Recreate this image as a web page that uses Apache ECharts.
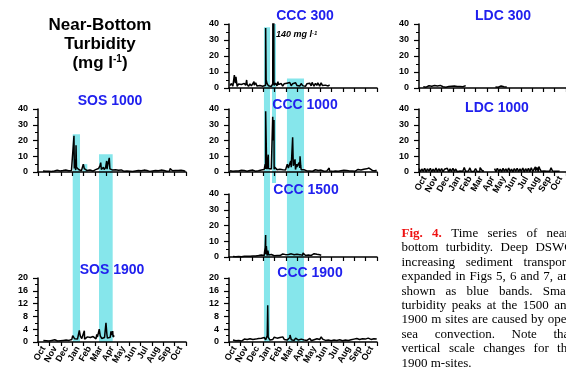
<!DOCTYPE html>
<html><head><meta charset="utf-8">
<script src="https://cdn.jsdelivr.net/npm/echarts@6/dist/echarts.min.js"></script>
<style>html,body{margin:0;padding:0;background:#fff}#c{width:566px;height:372px}</style>
</head><body><div id="c"></div>
<script>
// ---------------- DATA ----------------
const months = ['Oct','Nov','Dec','Jan','Feb','Mar','Apr','May','Jun','Jul','Aug','Sep','Oct'];
const STEP = 0.125; // months between samples of the base records

// SOS 1000
const sos1000Start = 0.44;
const sos1000Base = [0.6,0.9,0.4,1.1,0.5,0.8,0.3,1.0,0.6,0.4,1.2,0.5,0.7,0.3,0.9,0.6,1.3,0.4,0.8,0.5,1.0,
 1.5,2.2,1.2,2.5,1.6,1.1, 0.8,1.4,2.1,1.2,0.9, 0.7,1.3,1.8,0.6,1.1,1.5,0.9,
 2.2,3.0,1.6,2.6,1.5,2.8,1.8,3.1,2.0,2.4,1.2,
 0.9,1.4,0.6,1.1,0.5,1.3,0.8,0.4,1.0,0.6,1.2,0.5,0.9,0.3,1.1,0.7,0.4,1.0,0.6,0.8,0.3,1.2,0.5,0.9,0.6,0.4,1.1,0.7,0.5,1.0,0.3,0.8,0.6,1.2,0.4,0.9,0.7,0.5,1.1,0.6,1.4,0.8,0.5,1.0,0.4,0.9,0.6,1.1,0.5,0.8,0.4];
const sos1000Peaks = [[3.16,23],[3.2,8],[3.34,17],[3.38,3],[3.98,5],[5.45,4],[5.51,6],[5.56,5.5],[5.75,3],[6.03,7],[6.1,3.5],[6.26,9],[6.3,8.5],[11.6,2.2]];

// SOS 1900
const sos1900Start = 0.47;
const sos1900Base = [0.5,0.7,0.4,0.6,0.3,0.8,0.5,0.4,0.7,0.5,0.3,0.6,0.4,0.7,0.5,0.8,0.6,0.9,0.5,1.1,0.8,
 1.4,1.0,1.6,0.9,1.3,1.8,1.1,1.5,0.9,1.2,1.6,1.0,1.4,0.8,1.7,1.2,1.0,1.5,1.3,1.9,1.1,1.6,1.4,2.0,1.2,1.7,1.5,2.2,1.6,1.8];
const sos1900Peaks = [[3.05,2.0],[3.63,3.6],[4.07,3.5],[4.5,2.0],[5.16,2.4],[5.38,4.0],[5.97,6.0],[6.05,2.5],[6.41,3.3],[6.56,3.4],[6.7,2.0]];

// CCC 300
const ccc300Start = 0.09;
const ccc300Base = [1.5,2.8,1.2,2.0,3.0,1.0,2.5,1.4,2.2,1.1,2.9,1.6,2.3,1.0,2.6,1.3,2.1,1.8,3.2,1.2,
 2.4,1.5,2.7,1.1,2.0,1.7,2.9,1.4,2.3,1.0,2.5,1.6,3.1,1.3,2.2,1.8,2.8,1.2,2.6,1.5,
 3.0,1.9,3.4,1.4,2.7,2.0,3.3,1.6,2.5,1.2,2.8,1.5,2.2,1.0,2.6,1.7,3.0,1.3,2.4,1.1,
 2.9,1.6,2.3,1.2,3.2,1.5,2.7,1.8,2.1,1.3,1.9];
const ccc300Peaks = [[0.47,8],[0.55,3],[0.61,7],[1.55,5],[2.2,4],[3.22,37.5],[3.26,5],[3.89,140],[3.95,4],[4.3,4],[5.4,3.5],[5.9,4],[7.3,3.5],[7.8,3.2]];

// CCC 1000
const ccc1000Start = 0.09;
const ccc1000Base = [0.8,1.2,0.5,1.0,0.6,1.4,0.7,0.4,1.1,0.6,0.9,1.3,0.5,0.8,1.0,0.4,1.2,0.7,0.5,1.1,0.8,0.6,1.3,0.9,1.6,
 2.0,1.8,2.2,1.5,1.9,2.4,1.7,2.6,1.5,1.2,1.8,1.0,1.4,0.8,1.3,1.9,
 2.5,1.7,3.0,2.1,2.8,1.6,3.2,2.0,2.6,1.5,2.2,1.4,
 1.0,0.7,1.3,0.6,1.1,0.5,0.9,1.4,0.6,1.0,0.4,1.2,0.8,0.5,1.1,0.7,1.5,0.6,0.9,0.4,1.2,0.7,1.0,0.5,1.3,0.8,0.6,1.1,0.5,0.9,1.4,0.7,1.0,0.6,1.2,0.5,0.9,1.6,0.8,1.3,0.7,1.8,1.1,2.0,0.9,1.5,2.2,1.0,1.6,0.8,1.2];
const ccc1000Peaks = [[3.18,5],[3.22,38.5],[3.3,6],[3.45,11],[3.52,3],[3.84,35],[3.9,20],[3.95,33],[4.02,3],[5.12,5],[5.42,7],[5.5,3],[5.59,22],[5.65,4],[5.8,8],[5.95,5],[6.15,6],[6.24,10],[6.3,4],[8.8,2.5],[12.0,2.8],[12.3,2.5]];

// CCC 1500
const ccc1500Start = 0.35;
const ccc1500Base = [0.3,0.5,0.2,0.4,0.3,0.6,0.2,0.4,0.5,0.3,0.4,0.2,0.5,0.3,0.6,0.4,0.7,0.5,0.9,0.6,1.2,
 1.5,1.0,1.8,0.9,1.3,0.7,1.6,1.1,0.8,1.4,1.0,1.7,0.9,1.3,1.9,1.1,1.5,0.8,1.6,1.2,2.0,1.0,1.4,0.9,1.8,1.2,1.5,2.2,1.1,1.6,0.9,1.9,1.3,2.3,1.0,1.5,2.1,1.2,1.7,0.8,1.4,1.0];
const ccc1500Peaks = [[3.12,3],[3.18,6],[3.22,14],[3.28,7],[3.34,6],[3.42,4],[5.3,2.5],[6.5,2.6],[7.5,2.5]];

// CCC 1900
const ccc1900Start = 0.35;
const ccc1900Base = [0.6,0.9,0.4,0.8,0.5,1.0,0.3,0.7,0.9,0.5,0.8,0.4,1.0,0.6,0.8,0.5,0.9,0.7,1.1,0.6,
 1.2,0.8,1.4,0.7,1.0,1.3,0.6,1.1,0.8,1.5,0.9,1.2,0.7,1.4,1.0,1.6,0.8,1.3,0.6,1.1,
 1.4,0.7,1.0,0.5,1.2,0.8,0.6,1.1,0.9,1.3,0.6,1.0,0.5,0.8,1.1,0.4,0.9,0.7,0.5,1.0,
 0.6,0.8,0.4,0.9,0.7,0.5,1.0,0.6,0.8,0.4,0.9,0.6,1.1,0.5,0.8,0.7,1.0,0.4,0.9,0.6,
 0.8,0.5,1.0,0.7,0.4,0.9,0.6,1.1,0.5,0.8,0.7,1.0,0.6,0.9,0.5,1.2,0.7,0.8,0.6,1.0,0.7,0.9];
const ccc1900Peaks = [[3.36,2],[3.4,11.5],[3.44,1.5],[5.36,2.2],[6.0,1.8],[8.1,1.6]];

// LDC 300 (two deployments)
const ldc300StartA = 0.38;
const ldc300BaseA = [0.8,1.2,0.5,1.0,1.4,0.6,1.1,0.7,1.5,0.9,1.3,0.6,1.6,1.0,0.8,1.4,0.5,1.2,0.9,0.6,1.1,0.7,1.3,0.5,0.9,0.6,1.0,0.4,0.8,1.2,1.5];
const ldc300StartB = 6.76;
const ldc300BaseB = [0.7,1.0,0.5,0.9,1.3,0.6,0.8,0.5,0.7];

// LDC 1000 (two deployments)
const ldc1000StartA = 0.0;
const ldc1000BaseA = [2.2,0.2,1.9,0.4,2.4,0.1,2.0,0.5,2.3,0.2,1.8,0.3,2.5,0.1,2.1,0.4,2.2,0.2,1.7,0.5,2.4,0.1,2.0,0.3,2.3,0.4,1.9,0.2,1.0,0.6,1.2,0.5,2.8,0.4,1.1,0.6,2.6,0.3,1.0,0.5,2.2,0.4,0.9,0.3,1.6,0.5,0.8];
const ldc1000StartB = 6.68;
const ldc1000BaseB = [2.1,0.2,2.4,0.3,1.9,0.1,2.3,0.4,2.0,0.2,2.5,0.3,1.8,0.1,2.2,0.4,2.4,0.2,2.0,0.3,2.6,0.1,2.1,0.4,2.3,0.2,2.7,0.3,1.9,0.5,2.9,0.2,2.2,0.4,1.3,0.6,1.0,0.5,1.2,0.4,2.6,0.6,1.1,0.5,0.9,0.4,0.7];
const ldc1000Peaks = [[4.1,3.5],[4.6,3.2],[5.0,3.0],[5.4,2.8],[10.3,3.3],[10.6,3.5],[11.7,3.0]];

// DSWC event periods (months from 1 Oct) and band heights (data units of top panel)
const sosBands = [[3.05,3.69],[5.36,6.56],[3.93,4.33]];
const sosBandTops = [24, 11.2, 5];
const cccBands = [[3.07,3.60],[3.78,4.13],[5.09,6.59]];
const cccBandTops = [38, 40, 5.9];

const captionLines = [
 'Fig. 4. Time series of near-',
 'bottom turbidity. Deep DSWC',
 'increasing sediment transport,',
 'expanded in Figs 5, 6 and 7, are',
 'shown as blue bands. Small',
 'turbidity peaks at the 1500 and',
 '1900 m sites are caused by open',
 'sea convection. Note that',
 'vertical scale changes for the',
 '1900 m-sites.'
];

// ---------------- LAYOUT ----------------
const COLS = [38, 229, 419];
const PW = 148;
const BLUE = '#2020ee', CYAN = '#86e6eb';
const FONT = '"Liberation Sans", Arial, sans-serif';

function build(segs, peaks) {
  let pts = [];
  segs.forEach((s) => {
    s.values.forEach((v, i) => pts.push([s.start + i * STEP, v]));
  });
  (peaks || []).forEach(p => pts.push(p));
  pts.sort((a, b) => a[0] - b[0]);
  if (segs.length > 1) {
    const out = [];
    const ends = segs.slice(0, -1).map(s => s.start + (s.values.length - 1) * STEP);
    pts.forEach((p) => {
      out.push(p);
      ends.forEach(e => { if (Math.abs(p[0] - e) < 1e-6) out.push([e + 0.05, null]); });
    });
    pts = out;
  }
  return pts;
}

const panels = [
 {title:'SOS 1000', col:0, top:109, h:63, max:40, iv:10, labels:false, tx:110, ty:101,
  data: build([{start:sos1000Start, values:sos1000Base}], sos1000Peaks)},
 {title:'SOS 1900', col:0, top:278, h:64, max:20, iv:4, labels:true, tx:112, ty:270,
  data: build([{start:sos1900Start, values:sos1900Base}], sos1900Peaks)},
 {title:'CCC 300', col:1, top:24, h:64, max:40, iv:10, labels:false, tx:305, ty:16,
  data: build([{start:ccc300Start, values:ccc300Base}], ccc300Peaks)},
 {title:'CCC 1000', col:1, top:109, h:63, max:40, iv:10, labels:false, tx:305, ty:105,
  data: build([{start:ccc1000Start, values:ccc1000Base}], ccc1000Peaks)},
 {title:'CCC 1500', col:1, top:194, h:63, max:40, iv:10, labels:false, tx:306, ty:190,
  data: build([{start:ccc1500Start, values:ccc1500Base}], ccc1500Peaks)},
 {title:'CCC 1900', col:1, top:278, h:64, max:20, iv:4, labels:true, tx:310, ty:273,
  data: build([{start:ccc1900Start, values:ccc1900Base}], ccc1900Peaks)},
 {title:'LDC 300', col:2, top:24, h:64, max:40, iv:10, labels:false, tx:503, ty:16,
  data: build([{start:ldc300StartA, values:ldc300BaseA},{start:ldc300StartB, values:ldc300BaseB}], [])},
 {title:'LDC 1000', col:2, top:109, h:63, max:40, iv:10, labels:true, tx:497, ty:108,
  data: build([{start:ldc1000StartA, values:ldc1000BaseA},{start:ldc1000StartB, values:ldc1000BaseB}], ldc1000Peaks)}
];

const grid = [], xAxis = [], yAxis = [], series = [], graphic = [];

panels.forEach((p, i) => {
  grid.push({left: COLS[p.col], top: p.top, width: PW, height: p.h});
  xAxis.push({type:'category', gridIndex:i, data:months, boundaryGap:true, position:'bottom', z:3,
    axisLine:{show:true, lineStyle:{color:'#000', width:1.5}},
    axisTick:{show:true, interval:0, length:4, lineStyle:{color:'#000', width:1.2}},
    axisLabel:{show:p.labels, interval:0, rotate:60, fontSize:9, fontWeight:'bold', color:'#000', margin:5, fontFamily:FONT},
    splitLine:{show:false}});
  xAxis.push({type:'value', gridIndex:i, min:0, max:13, show:false});
  yAxis.push({type:'value', gridIndex:i, min:0, max:p.max, interval:p.iv, z:3,
    axisLine:{show:true, lineStyle:{color:'#000', width:1.5}},
    axisTick:{show:true, length:5, lineStyle:{color:'#000', width:1.2}},
    minorTick:{show:true, splitNumber:2, length:3, lineStyle:{color:'#000', width:1}},
    splitLine:{show:false}, minorSplitLine:{show:false},
    axisLabel:{fontSize:9, fontWeight:'bold', color:'#000', margin:10, fontFamily:FONT}});
  series.push({type:'line', xAxisIndex:2*i+1, yAxisIndex:i, data:p.data, showSymbol:false, symbol:'none',
    connectNulls:false, clip:true, z:4, animation:false,
    lineStyle:{color:'#000', width:1.5}});
  graphic.push({type:'text', x:p.tx, y:p.ty, z:10,
    style:{text:p.title, font:'bold 14px ' + FONT, fill:BLUE, align:'center', verticalAlign:'middle', textAlign:'center', textVerticalAlign:'middle'}});
});

function valPx(p, v) { return p.top + p.h * (1 - v / p.max); }
function bottomPx(p) { return p.top + p.h; }
const bandSets = [
 {col:0, items: sosBands.map((b, k) => ({x0:b[0], x1:b[1],
   y0: valPx(panels[0], sosBandTops[k]),
   y1: k === 2 ? bottomPx(panels[0]) : bottomPx(panels[1])}))},
 {col:1, items: cccBands.map((b, k) => ({x0:b[0], x1:b[1],
   y0: k === 1 ? bottomPx(panels[2]) - 64 : valPx(panels[2], cccBandTops[k]),
   y1: k === 1 ? bottomPx(panels[3]) + 11 : bottomPx(panels[5])}))}
];
bandSets.forEach((bs) => {
  const gi = grid.length;
  grid.push({left: COLS[bs.col], top: 0, width: PW, height: 372});
  xAxis.push({type:'value', gridIndex:gi, min:0, max:13, show:false});
  yAxis.push({type:'value', gridIndex:gi, min:0, max:372, inverse:true, show:false});
  series.push({type:'custom', xAxisIndex:xAxis.length-1, yAxisIndex:yAxis.length-1, z:1, animation:false, silent:true,
    data: bs.items.map(b => [b.x0, b.x1, b.y0, b.y1]),
    encode:{x:[0,1], y:[2,3]},
    renderItem: function (params, api) {
      const a = api.coord([api.value(0), api.value(2)]);
      const b = api.coord([api.value(1), api.value(3)]);
      return {type:'rect', shape:{x:a[0], y:a[1], width:b[0]-a[0], height:b[1]-a[1]}, style:{fill:CYAN}};
    }});
});

graphic.push({type:'text', x:100, y:25, z:10, style:{text:'Near-Bottom', font:'bold 17px ' + FONT, fill:'#000', align:'center', verticalAlign:'middle'}});
graphic.push({type:'text', x:100, y:44, z:10, style:{text:'Turbidity', font:'bold 17px ' + FONT, fill:'#000', align:'center', verticalAlign:'middle'}});
graphic.push({type:'text', x:100, y:63, z:10, style:{text:'(mg l{s|-1})', font:'bold 17px ' + FONT, fill:'#000', align:'center', verticalAlign:'middle',
  rich:{s:{font:'bold 10px ' + FONT, fill:'#000', verticalAlign:'top', padding:[0,0,6,0]}}}});
graphic.push({type:'text', x:276, y:35, z:10, style:{text:'140 mg l{s|-1}', font:'italic bold 9px ' + FONT, fill:'#000', align:'left', verticalAlign:'middle',
  rich:{s:{font:'italic bold 6px ' + FONT, fill:'#000', verticalAlign:'top', padding:[0,0,4,0]}}}});

const ctx = document.createElement('canvas').getContext('2d');
const CAP_X = 401.5, CAP_R = 573, CAP_Y0 = 233.5, CAP_DY = 14.4;
const serif = '13px "Liberation Serif", "Times New Roman", serif';
const serifB = 'bold 13px "Liberation Serif", "Times New Roman", serif';
ctx.font = serif; const spaceW = ctx.measureText(' ').width;
captionLines.forEach((line, li) => {
  const words = line.split(' ');
  const fonts = words.map((w, wi) => (li === 0 && wi < 2) ? serifB : serif);
  const widths = words.map((w, wi) => { ctx.font = fonts[wi]; return ctx.measureText(w).width; });
  const total = widths.reduce((a, b) => a + b, 0);
  const last = li === captionLines.length - 1;
  const gap = last ? spaceW : (CAP_R - CAP_X - total) / (words.length - 1);
  let x = CAP_X;
  words.forEach((w, wi) => {
    graphic.push({type:'text', x:x, y:CAP_Y0 + li * CAP_DY, z:10,
      style:{text:w, font:fonts[wi], fill:(li === 0 && wi < 2) ? '#ee1111' : '#000', align:'left', verticalAlign:'middle'}});
    x += widths[wi] + gap;
  });
});

const chart = echarts.init(document.getElementById('c'), null, {renderer:'canvas'});
chart.setOption({animation:false, backgroundColor:'#fff', grid, xAxis, yAxis, series, graphic});
</script></body></html>
